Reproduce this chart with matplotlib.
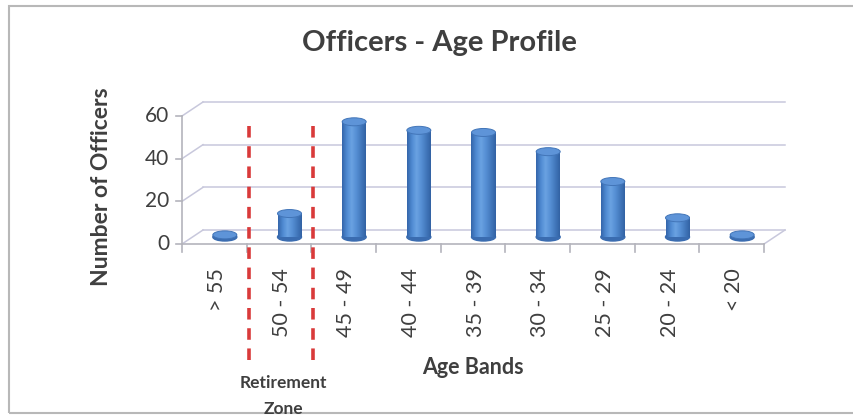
import numpy as np
import matplotlib
matplotlib.use('Agg')
import matplotlib.pyplot as plt
from matplotlib.patches import Ellipse, Rectangle
from matplotlib.colors import LinearSegmentedColormap

bands = ['> 55', '50 - 54', '45 - 49', '40 - 44', '35 - 39', '30 - 34', '25 - 29', '20 - 24', '< 20']
officers = [1, 11, 54, 50, 49, 40, 26, 9, 1]
y_ticks = [0, 20, 40, 60]
retirement_edges = [0.5, 1.5]   # boundaries between bands

plt.rcParams['font.family'] = ['Lato', 'DejaVu Sans']
text_col = '#3f3f3f'
grid_col = '#c8c8dc'
axis_col = '#b4b4bc'

W, H = 854, 416
fig = plt.figure(figsize=(W / 100, H / 100), dpi=100)
fig.patch.set_facecolor('white')

# front plane of the 3D box
ax = fig.add_axes([182 / W, (H - 244) / H, 582 / W, 128 / H])
n = len(bands)
x0, x1 = -0.5, n - 0.5
ymax = y_ticks[-1]

px_x = n / 582.0      # data units per pixel
px_y = ymax / 128.0
dx, dy = 21 * px_x, 14 * px_y   # depth of the box

# back wall gridlines + side wall
for y in y_ticks:
    ax.plot([x0 + dx, x1 + dx], [y + dy, y + dy], color=grid_col, lw=1.1, clip_on=False, zorder=1)
    ax.plot([x0, x0 + dx], [y, y + dy], color=grid_col, lw=1.1, clip_on=False, zorder=1)
# floor
ax.plot([x1, x1 + dx], [0, dy], color=grid_col, lw=1.1, clip_on=False, zorder=1)
ax.plot([x0, x1], [0, 0], color=axis_col, lw=1.2, clip_on=False, zorder=2)
ax.plot([x0, x0], [0, ymax], color=axis_col, lw=1.2, clip_on=False, zorder=2)

# ticks
for k in range(n + 1):
    ax.plot([x0 + k, x0 + k], [0, -8 * px_y], color=axis_col, lw=1.2, clip_on=False)
for y in y_ticks:
    ax.plot([x0 - 6 * px_x, x0], [y, y], color=axis_col, lw=1.2, clip_on=False)
    ax.text(x0 - 13 * px_x, y, str(y), ha='right', va='center', fontsize=15, color=text_col)

for i, lab in enumerate(bands):
    ax.text(i + 0.04, -24 * px_y, lab, rotation=90, ha='center', va='top', fontsize=15.5, color=text_col)

# cylinders
cyl = LinearSegmentedColormap.from_list('cyl', ['#3466aa', '#4f8ad2', '#6aa2e2', '#568fd4', '#4379bd', '#3262a4'])
grad = np.linspace(0, 1, 64).reshape(1, -1)
bw = 24 * px_x
eh = 8 * px_y
for i, v in enumerate(officers):
    xc = i + dx / 2
    base = dy / 2
    ax.add_patch(Ellipse((xc, base), bw, eh, color='#3a6cb0', clip_on=False, zorder=3))
    ax.imshow(grad, cmap=cyl, extent=[xc - bw / 2, xc + bw / 2, base, base + v],
              aspect='auto', interpolation='bilinear', zorder=4, clip_on=False)
    ax.add_patch(Ellipse((xc, base + v), bw, eh, facecolor='#5e94d8', edgecolor='#4275b8',
                         lw=0.7, clip_on=False, zorder=5))

# retirement zone markers
for e in retirement_edges:
    ax.plot([e + 2 * px_x, e + 2 * px_x], [-116 * px_y, 124 * px_y], color='#d93a3a', lw=2.6,
            ls=(0, (3.2, 2.4)), clip_on=False, zorder=6)

ax.set_xlim(x0, x1)
ax.set_ylim(0, ymax)
ax.axis('off')

fig.text(439 / W, 1 - 43 / H, 'Officers - Age Profile', ha='center', va='center',
         fontsize=21, weight='bold', color=text_col)
fig.text(102 / W, 1 - 187 / H, 'Number of Officers', rotation=90, ha='center', va='center',
         fontsize=16.5, weight='bold', color=text_col)
fig.text(473 / W, 1 - 368 / H, 'Age Bands', ha='center', va='center',
         fontsize=15.5, weight='bold', color=text_col)
fig.text(283 / W, 1 - 383 / H, 'Retirement', ha='center', va='center',
         fontsize=12.5, weight='bold', color=text_col)
fig.text(283 / W, 1 - 409 / H, 'Zone', ha='center', va='center',
         fontsize=12.5, weight='bold', color=text_col)

fig.patches.append(Rectangle((9 / W, 3 / H), 850 / W, 407 / H, transform=fig.transFigure,
                             fill=False, edgecolor='#b8b8b8', lw=1.5))

fig.savefig('out.png', dpi=100)
